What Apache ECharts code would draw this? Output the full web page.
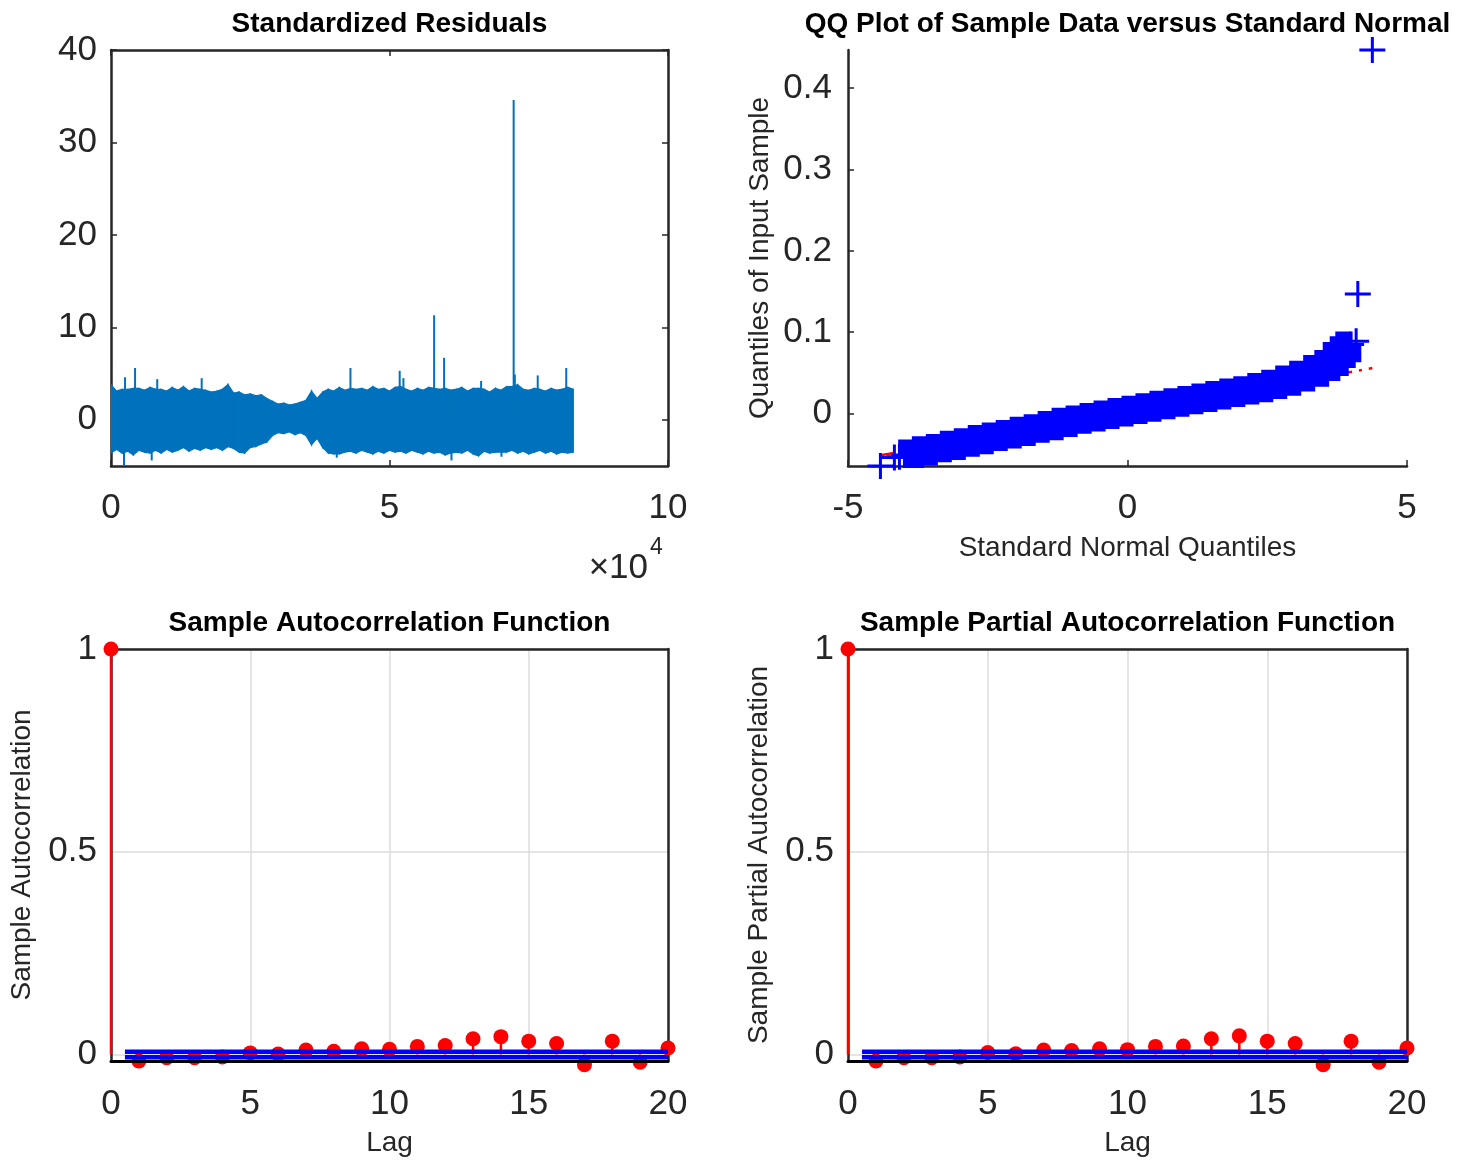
<!DOCTYPE html>
<html>
<head>
<meta charset="utf-8">
<title>Residual diagnostics</title>
<script src="https://cdn.jsdelivr.net/npm/echarts@6.0.0/dist/echarts.min.js"></script>
<style>
  html, body { margin: 0; padding: 0; background: #fff; }
  #chart { width: 1478px; height: 1163px; }
</style>
</head>
<body>
<div id="chart"></div>
<script>
// ---- values ----

// standardized residuals: typical max / min of each block of 1000 observations
const residBlock = 1000;
const residUpper = [3.8, 3.1, 3.3, 3.3, 3.4, 3.4, 3.2, 3.5, 3.3, 3.3,
  3.1, 3.5, 3.2, 3.6, 3.1, 3.4, 3.3, 3.2, 3.0, 3.1,
  3.3, 3.8, 2.9, 3.0, 2.7, 2.8, 2.6, 2.7, 2.3, 2.0,
  1.7, 1.8, 1.6, 1.7, 1.9, 2.1, 3.1, 2.3, 3.0, 3.3,
  3.1, 3.5, 3.2, 3.4, 3.3, 3.4, 3.2, 3.6, 3.3, 3.4,
  3.1, 3.5, 3.6, 3.3, 3.1, 3.4, 3.2, 3.5, 3.4, 3.3,
  3.4, 3.2, 3.3, 3.5, 3.1, 3.4, 3.4, 3.3, 3.0, 3.4,
  3.2, 3.6, 3.6, 3.8, 3.3, 3.2, 3.4, 3.3, 3.1, 3.4,
  3.2, 3.3, 3.5, 3.3];
const residLower = [-3.6, -3.2, -3.6, -3.4, -3.8, -3.3, -3.5, -3.6, -3.3, -3.6,
  -3.2, -3.5, -3.3, -3.0, -3.4, -3.1, -3.3, -3.0, -3.2, -3.0,
  -3.3, -2.9, -3.1, -3.5, -3.6, -3.0, -2.9, -2.6, -2.4, -1.7,
  -1.4, -1.5, -1.3, -1.6, -1.4, -1.7, -2.7, -2.0, -3.0, -3.6,
  -3.7, -3.7, -3.5, -3.4, -3.6, -3.3, -3.5, -3.7, -3.4, -3.6,
  -3.3, -3.5, -3.4, -3.6, -3.3, -3.5, -3.7, -3.4, -3.6, -3.5,
  -3.8, -3.6, -3.5, -3.6, -3.3, -3.7, -3.9, -3.4, -3.6, -3.5,
  -3.5, -3.5, -3.3, -3.6, -3.4, -3.7, -3.5, -3.3, -3.6, -3.4,
  -3.7, -3.5, -3.6, -3.5];
// isolated outliers (observation index, value)
const residSpikeX = [2520, 4320, 8300, 16280, 42990, 51830, 52500, 58010, 59800, 66450,
  72290, 72500, 76610, 81730, 2330, 7310, 40530, 61130, 70100];
const residSpikeY = [4.6, 5.6, 4.4, 4.5, 5.6, 5.3, 4.5, 11.3, 6.7, 4.2,
  34.6, 4.9, 4.8, 5.6, -5.3, -4.4, -4.1, -4.4, -4.0];
const residYTicks = [0, 10, 20, 30, 40];

// QQ plot: dense middle part and the separate tail points
const qqBandX = [-3.99, -3.75, -3.5, -3.25, -3.0, -2.75, -2.5, -2.25, -2.0, -1.75,
  -1.5, -1.25, -1.0, -0.75, -0.5, -0.25, 0, 0.25, 0.5, 0.75,
  1.0, 1.25, 1.5, 1.75, 2.0, 2.25, 2.5, 2.75, 3.0, 3.25,
  3.5, 3.65, 3.8, 3.9, 4.0];
const qqBandY = [-0.051, -0.048, -0.044, -0.041, -0.037, -0.034, -0.030, -0.027, -0.024, -0.020,
  -0.017, -0.013, -0.009, -0.006, -0.003, 0.000, 0.003, 0.006, 0.009, 0.012,
  0.015, 0.018, 0.021, 0.024, 0.027, 0.030, 0.034, 0.038, 0.043, 0.049,
  0.056, 0.062, 0.072, 0.079, 0.085];
const qqTailX = [-4.42, -4.17, -4.08, 4.09, 4.12, 4.38];
const qqTailY = [-0.0645, -0.054, -0.053, 0.089, 0.147, 0.447];
const qqRefX = [-4.42, 4.38];
const qqRefY = [-0.0514, 0.0559];
const qqYTicks = [0, 0.1, 0.2, 0.3, 0.4];

// sample autocorrelation / partial autocorrelation
const lags = [0, 1, 2, 3, 4, 5, 6, 7, 8, 9, 10, 11, 12, 13, 14, 15, 16, 17, 18, 19, 20];
const acfValues = [1, -0.016, -0.008, -0.008, -0.006, 0.004, 0.001, 0.011, 0.008, 0.014,
  0.013, 0.020, 0.022, 0.039, 0.044, 0.033, 0.027, -0.025, 0.033, -0.019, 0.016];
const pacfValues = [1, -0.016, -0.008, -0.008, -0.006, 0.005, 0.002, 0.011, 0.010, 0.014,
  0.012, 0.020, 0.021, 0.039, 0.046, 0.033, 0.027, -0.025, 0.033, -0.019, 0.016];
const confBound = 0.0069;
const corrYTicks = [0, 0.5, 1];

// ---- styling ----
const FONT = "'Liberation Sans', Arial, Helvetica, sans-serif";
const INK = '#262626';
const RESID_BLUE = '#0072BD';
const tickLabel = { fontFamily: FONT, fontSize: 35, color: INK };
const nameStyle = { fontFamily: FONT, fontSize: 28, color: INK };
const boxLine = { show: true, onZero: false, lineStyle: { color: INK, width: 2.5 } };
const inTick = { show: true, inside: true, length: 6, lineStyle: { color: INK, width: 1.5 } };
const gridLine = { show: true, lineStyle: { color: '#dcdcdc', width: 1.5 } };
const PLUS = 'path://M11.5,0h3v11.5h11.5v3h-11.5v11.5h-3v-11.5h-11.5v-3h11.5z';

const qqBand = qqBandX.map((x, i) => [x, qqBandY[i]]);
const qqTails = qqTailX.map((x, i) => [x, qqTailY[i]]);

// one quad per pair of neighbouring blocks, filled between the envelopes
function bandItem(params, api) {
  const i = params.dataIndex;
  if (i >= residUpper.length - 1) return null;
  const x0 = api.value(0);
  const x1 = x0 + residBlock;
  const pts = [
    api.coord([x0, api.value(1)]),
    api.coord([x1, residUpper[i + 1]]),
    api.coord([x1, residLower[i + 1]]),
    api.coord([x0, api.value(2)])
  ];
  return { type: 'polygon', shape: { points: pts },
    style: { fill: RESID_BLUE, stroke: RESID_BLUE, lineWidth: 1.2 } };
}

function spikeItem(params, api) {
  const base = api.coord([api.value(0), 0]);
  const tip = api.coord([api.value(0), api.value(1)]);
  return { type: 'line', shape: { x1: base[0], y1: base[1], x2: tip[0], y2: tip[1] },
    style: { stroke: RESID_BLUE, lineWidth: 2 } };
}

function stemItem(params, api) {
  const base = api.coord([api.value(0), 0]);
  const tip = api.coord([api.value(0), api.value(1)]);
  return {
    type: 'group',
    children: [
      { type: 'line', shape: { x1: base[0], y1: base[1], x2: tip[0], y2: tip[1] },
        style: { stroke: '#ff0000', lineWidth: 2.5 } },
      { type: 'circle', shape: { cx: tip[0], cy: tip[1], r: 7.5 }, style: { fill: '#ff0000' } }
    ]
  };
}

function corrAxes(grid, yName) {
  const x = [
    { gridIndex: grid, type: 'value', min: 0, max: 20, interval: 5, z: 5,
      axisLine: { show: true, onZero: false, lineStyle: { color: '#000', width: 3 } },
      axisTick: { show: false }, axisLabel: { ...tickLabel, margin: 26 }, splitLine: { show: false },
      name: 'Lag', nameLocation: 'middle', nameGap: 68, nameTextStyle: nameStyle },
    { gridIndex: grid, type: 'value', position: 'top', min: 0, max: 20, interval: 5,
      axisLine: boxLine, axisTick: { show: false }, axisLabel: { show: false }, splitLine: gridLine }
  ];
  const y = [
    { gridIndex: grid, type: 'value', min: -0.016, max: 1,
      axisLine: boxLine, axisTick: { show: false, customValues: corrYTicks },
      axisLabel: { ...tickLabel, margin: 14, customValues: corrYTicks }, splitLine: gridLine,
      name: yName, nameLocation: 'middle', nameGap: 75, nameTextStyle: nameStyle },
    { gridIndex: grid, type: 'value', position: 'right', min: -0.016, max: 1,
      axisLine: boxLine, axisTick: { show: false }, axisLabel: { show: false }, splitLine: { show: false } }
  ];
  return { x, y };
}

function corrSeries(axisIdx, values, label) {
  const last = lags[lags.length - 1];
  return [
    { name: label, type: 'custom', xAxisIndex: axisIdx, yAxisIndex: axisIdx,
      data: lags.map((l, i) => [l, values[i]]), encode: { x: 0, y: 1 },
      renderItem: stemItem, z: 2 },
    { name: 'Upper bound', type: 'line', xAxisIndex: axisIdx, yAxisIndex: axisIdx,
      data: [[0.5, confBound], [last, confBound]], symbol: 'none',
      lineStyle: { color: '#0000ff', width: 4.5 }, z: 3 },
    { name: 'Lower bound', type: 'line', xAxisIndex: axisIdx, yAxisIndex: axisIdx,
      data: [[0.5, -confBound], [last, -confBound]], symbol: 'none',
      lineStyle: { color: '#0000ff', width: 4.5 }, z: 3 }
  ];
}

const acfAxes = corrAxes(2, 'Sample Autocorrelation');
const pacfAxes = corrAxes(3, 'Sample Partial Autocorrelation');

function titleText(text, x, y) {
  return { type: 'text', x: x, y: y, z: 10,
    style: { text: text, font: 'bold 28px ' + FONT, fill: '#000',
      align: 'center', textAlign: 'center', verticalAlign: 'middle', textVerticalAlign: 'middle' } };
}

const chart = echarts.init(document.getElementById('chart'), null, { renderer: 'canvas' });
chart.setOption({
  animation: false,
  backgroundColor: '#fff',
  grid: [
    { left: 111, top: 50, width: 557, height: 416, outerBoundsMode: 'none' },
    { left: 848, top: 50, width: 559, height: 416, outerBoundsMode: 'none' },
    { left: 111, top: 649, width: 557, height: 412, outerBoundsMode: 'none' },
    { left: 848, top: 649, width: 559, height: 412, outerBoundsMode: 'none' }
  ],
  xAxis: [
    { gridIndex: 0, type: 'value', min: 0, max: 100000, interval: 50000,
      axisLine: boxLine, axisTick: inTick, splitLine: { show: false },
      axisLabel: { ...tickLabel, margin: 25, formatter: v => String(v / 10000) } },
    { gridIndex: 0, type: 'value', position: 'top', min: 0, max: 100000, interval: 50000,
      axisLine: boxLine, axisTick: inTick, axisLabel: { show: false }, splitLine: { show: false } },
    { gridIndex: 1, type: 'value', min: -5, max: 5, interval: 5,
      axisLine: boxLine, axisTick: inTick, splitLine: { show: false },
      axisLabel: { ...tickLabel, margin: 25 },
      name: 'Standard Normal Quantiles', nameLocation: 'middle', nameGap: 68, nameTextStyle: nameStyle },
    ...acfAxes.x,
    ...pacfAxes.x
  ],
  yAxis: [
    { gridIndex: 0, type: 'value', min: -5, max: 40,
      axisLine: boxLine, axisTick: { ...inTick, customValues: residYTicks },
      axisLabel: { ...tickLabel, margin: 14, customValues: residYTicks }, splitLine: { show: false } },
    { gridIndex: 0, type: 'value', position: 'right', min: -5, max: 40,
      axisLine: boxLine, axisTick: { ...inTick, customValues: residYTicks },
      axisLabel: { show: false }, splitLine: { show: false } },
    { gridIndex: 1, type: 'value', min: -0.0645, max: 0.447,
      axisLine: boxLine, axisTick: { ...inTick, customValues: qqYTicks },
      axisLabel: { ...tickLabel, margin: 16, customValues: qqYTicks }, splitLine: { show: false },
      name: 'Quantiles of Input Sample', nameLocation: 'middle', nameGap: 74, nameTextStyle: nameStyle },
    ...acfAxes.y,
    ...pacfAxes.y
  ],
  series: [
    { name: 'Residual band', type: 'custom', xAxisIndex: 0, yAxisIndex: 0,
      data: residUpper.map((hi, i) => [i * residBlock, hi, residLower[i]]),
      encode: { x: 0, y: [1, 2] }, renderItem: bandItem, clip: true, z: 2 },
    { name: 'Residual spikes', type: 'custom', xAxisIndex: 0, yAxisIndex: 0,
      data: residSpikeX.map((x, i) => [x, residSpikeY[i]]), encode: { x: 0, y: 1 },
      renderItem: spikeItem, clip: true, z: 3 },
    { name: 'Reference line', type: 'line', xAxisIndex: 2, yAxisIndex: 2,
      data: qqRefX.map((x, i) => [x, qqRefY[i]]), symbol: 'none',
      lineStyle: { color: '#ff0000', width: 2.5, type: [14, 7, 3, 7] }, z: 1 },
    { name: 'Sample quantiles', type: 'line', xAxisIndex: 2, yAxisIndex: 2,
      data: qqBand, step: 'middle', symbol: 'none',
      lineStyle: { color: '#0000ff', width: 26, cap: 'butt', join: 'miter' }, z: 2 },
    { name: 'Quantile markers', type: 'scatter', xAxisIndex: 2, yAxisIndex: 2,
      data: qqBand.concat(qqTails), symbol: PLUS, symbolSize: 26,
      itemStyle: { color: '#0000ff', opacity: 1 }, clip: false, z: 3 },
    // acf uses x/y axis index 3, pacf 5 (top/right mirrors are 4 and 6)
    ...corrSeries(3, acfValues, 'Sample autocorrelation'),
    ...corrSeries(5, pacfValues, 'Sample partial autocorrelation')
  ],
  graphic: [
    titleText('Standardized Residuals', 389.5, 24),
    titleText('QQ Plot of Sample Data versus Standard Normal', 1127.5, 24),
    titleText('Sample Autocorrelation Function', 389.5, 623),
    titleText('Sample Partial Autocorrelation Function', 1127.5, 623),
    { type: 'text', x: 648, y: 568,
      style: { text: '×10', font: '35px ' + FONT, fill: INK,
        align: 'right', textAlign: 'right', verticalAlign: 'middle', textVerticalAlign: 'middle' } },
    { type: 'text', x: 650, y: 548,
      style: { text: '4', font: '23px ' + FONT, fill: INK,
        align: 'left', textAlign: 'left', verticalAlign: 'middle', textVerticalAlign: 'middle' } }
  ]
});
</script>
</body>
</html>
